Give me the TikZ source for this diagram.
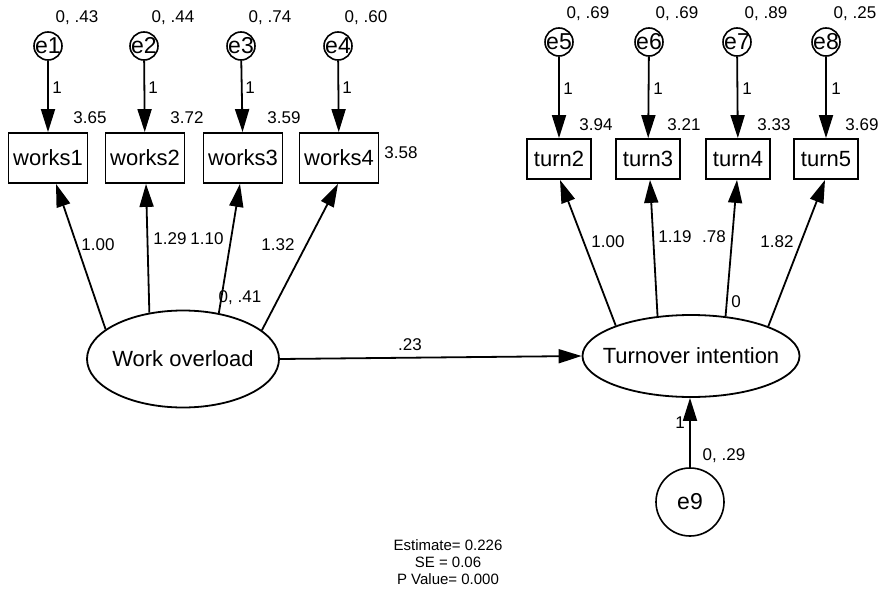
\documentclass[tikz,border=0pt]{standalone}
\usepackage{fontspec}
\setmainfont{Liberation Sans}
\usetikzlibrary{arrows.meta,shapes.geometric,calc}
\begin{document}
\begin{tikzpicture}[x=1pt,y=-1pt,
  lbl/.style={font=\fontsize{17}{20}\selectfont, inner sep=0pt},
  obs/.style={draw, line width=1.8pt, minimum width=79pt, minimum height=50pt, inner sep=0pt, font=\fontsize{22}{26}\selectfont},
  obsT/.style={obs, minimum width=64pt, minimum height=40pt},
  err/.style={draw, circle, line width=1.6pt, minimum size=28pt, inner sep=0pt,
    label={[font=\fontsize{23}{26}\selectfont, inner sep=0pt]center:#1}},
  lat/.style={draw, ellipse, line width=1.8pt, inner sep=0pt},
  latlbl/.style={label={[font=\fontsize{22}{26}\selectfont, inner sep=0pt]center:#1}},
  arr/.style={line width=1.8pt, -{Triangle[length=23pt,width=14pt]}},
]
\useasboundingbox (0,0) rectangle (885,591);

% error terms
\node[err=e1] (e1) at (48,46) {};
\node[err=e2] (e2) at (144,46) {};
\node[err=e3] (e3) at (241,46) {};
\node[err=e4] (e4) at (338,46) {};
\node[err=e5] (e5) at (559,42) {};
\node[err=e6] (e6) at (649,42) {};
\node[err=e7] (e7) at (737,42) {};
\node[err=e8] (e8) at (826,42) {};
\node[err=e9, minimum size=68pt] (e9) at (690,502) {};

% observed
\node[obs] (w1) at (48,158) {works1};
\node[obs] (w2) at (145,158) {works2};
\node[obs] (w3) at (243,158) {works3};
\node[obs] (w4) at (339,158) {works4};
\node[obsT] (t2) at (559,159) {turn2};
\node[obsT] (t3) at (648,159) {turn3};
\node[obsT] (t4) at (738,159) {turn4};
\node[obsT] (t5) at (826,159) {turn5};

% latent
\node[lat, minimum width=192pt, minimum height=97pt, latlbl=Work overload] (wo) at (183,359) {};
\node[lat, minimum width=217pt, minimum height=82pt, latlbl=Turnover intention] (ti) at (691,356) {};

% variance labels
\node[lbl] (v1) at (77,18) {0, .43};
\node[lbl] (v2) at (173,18) {0, .44};
\node[lbl] (v3) at (270,18) {0, .74};
\node[lbl] (v4) at (366,18) {0, .60};
\node[lbl] (v5) at (588,14) {0, .69};
\node[lbl] (v6) at (677,14) {0, .69};
\node[lbl] (v7) at (766,14) {0, .89};
\node[lbl] (v8) at (855,14) {0, .25};
\node[lbl] (v9) at (724,456) {0, .29};
\node[lbl] (vwo) at (240,298) {0, .41};
\node[lbl] (vti) at (736,302) {0};

% intercepts
\node[lbl] (m1) at (90,118) {3.65};
\node[lbl] (m2) at (187,118) {3.72};
\node[lbl] (m3) at (284,118) {3.59};
\node[lbl] (m4) at (401,153) {3.58};
\node[lbl] (m5) at (596,125) {3.94};
\node[lbl] (m6) at (684,125) {3.21};
\node[lbl] (m7) at (774,125) {3.33};
\node[lbl] (m8) at (862,125) {3.69};

% error arrows
\foreach \e/\o in {e1/w1,e2/w2,e3/w3,e4/w4,e5/t2,e6/t3,e7/t4,e8/t5}
  \draw[arr] (\e) -- (\o);
\draw[arr] (e9) -- (e9 |- ti.south);

% fixed "1" labels
\node[lbl] (o1) at (57,88) {1};
\node[lbl] (o2) at (153,88) {1};
\node[lbl] (o3) at (250,88) {1};
\node[lbl] (o4) at (347,88) {1};
\node[lbl] (o5) at (568,89) {1};
\node[lbl] (o6) at (658,89) {1};
\node[lbl] (o7) at (747,89) {1};
\node[lbl] (o8) at (836,89) {1};
\node[lbl] (o9) at (680,423) {1};

% loadings
\draw[arr] (wo.159) -- ([xshift=8pt]w1.south);
\draw[arr] (wo.126.5) -- ([xshift=1pt]w2.south);
\draw[arr] (wo.52.7) -- ([xshift=-3pt]w3.south);
\draw[arr] (wo.20) -- ([xshift=-1pt]w4.south);
\draw[arr] (ti.158) -- ([xshift=1pt]t2.south);
\draw[arr] (ti.130.5) -- ([xshift=2pt]t3.south);
\draw[arr] (ti.49.5) -- ([xshift=-1pt]t4.south);
\draw[arr] (ti.21.7) -- ([xshift=-1pt]t5.south);

\node[lbl] (l1) at (98,245) {1.00};
\node[lbl] (l2) at (170,239) {1.29};
\node[lbl] (l3) at (207,239) {1.10};
\node[lbl] (l4) at (278,245) {1.32};
\node[lbl] (l5) at (608,242) {1.00};
\node[lbl] (l6) at (675,237) {1.19};
\node[lbl] (l7) at (714,237) {.78};
\node[lbl] (l8) at (777,242) {1.82};

% structural path
\draw[arr] (wo.east) -- (ti.west);
\node[lbl] (p1) at (410,345) {.23};

% summary
\node[align=center, inner sep=0pt, font=\fontsize{15}{17}\selectfont] (sum) at (448,562)
  {Estimate= 0.226\\SE = 0.06\\P Value= 0.000};
\end{tikzpicture}
\end{document}
